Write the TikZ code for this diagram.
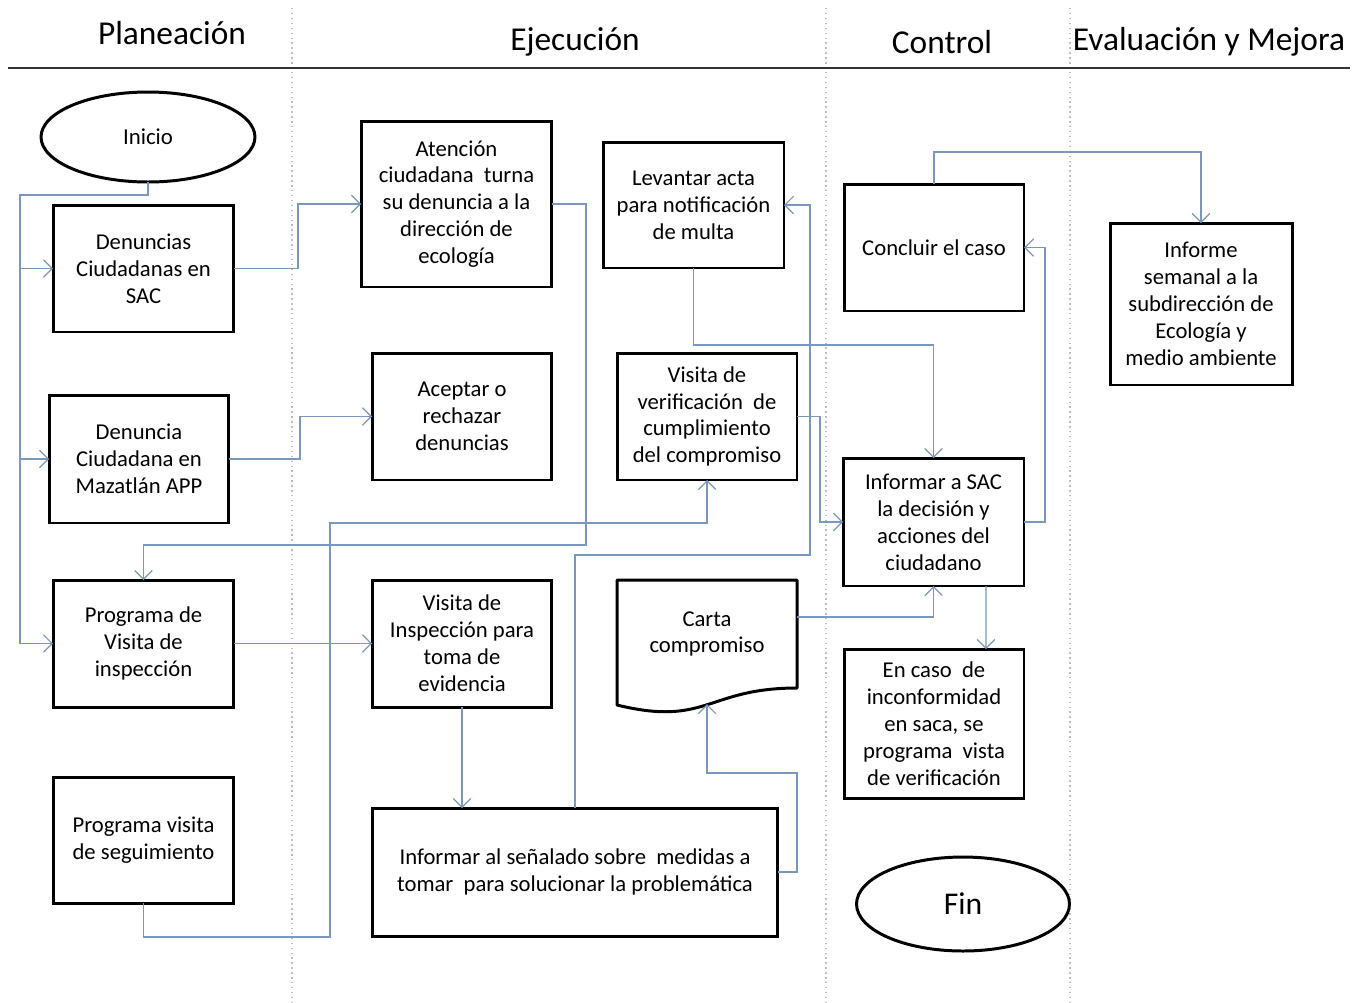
\documentclass[tikz,border=0pt]{standalone}
\usepackage{fontspec}
\setmainfont{Carlito}
\usetikzlibrary{arrows.meta,shapes.geometric}

\definecolor{conncol}{RGB}{122,152,190}
\definecolor{lanecol}{RGB}{190,190,190}

\tikzset{
  proc/.style={draw=black, line width=1.7pt, fill=white, align=center,
    inner sep=0pt, outer sep=0pt, font=\fontsize{12.9}{15.3}\selectfont},
  term/.style={ellipse, draw=black, line width=1.7pt, fill=white, inner sep=0pt, outer sep=0pt},
  txt/.style={align=center, inner sep=0pt, font=\fontsize{12.9}{15.3}\selectfont},
  conn/.style={draw=conncol, line width=0.7pt},
  arr/.style={conn, -{Straight Barb[length=5pt,width=10pt]}},
  lane/.style={draw=lanecol, dotted, line width=0.8pt},
  head/.style={font=\fontsize{19}{23}\selectfont, inner sep=0pt},
}

\begin{document}
\begin{tikzpicture}[x=0.02cm, y=-0.02cm]
\fill[white] (0,0) rectangle (1364,1002);
\useasboundingbox (0,0) rectangle (1364,1002);

% swimlane separators and header rule
\draw[lane] (292,8) -- (292,1002);
\draw[lane] (826,8) -- (826,1002);
\draw[lane] (1070,8) -- (1070,1002);
\draw[draw=black!80, line width=0.9pt] (8,68) -- (1350,68);

\node[head] (hplan) at (172,33) {Planeación};
\node[head] (hejec) at (575,42) {Ejecución};
\node[head] (hcont) at (942,42) {Control};
\node[head] (heval) at (1209,42) {Evaluación y Mejora};

% Planeación
\node[term, minimum width=4.28cm, minimum height=1.80cm, font=\fontsize{13}{15.3}\selectfont] (inicio) at (148,137) {Inicio};
\node[proc, minimum width=3.62cm, minimum height=2.54cm] (sac) at (143.5,268.5) {Denuncias\\Ciudadanas en\\SAC};
\node[proc, minimum width=3.60cm, minimum height=2.56cm] (app) at (139,459) {Denuncia\\Ciudadana en\\Mazatlán APP};
\node[proc, minimum width=3.62cm, minimum height=2.54cm] (progv) at (143.5,643.5) {Programa de\\Visita de\\inspección};
\node[proc, minimum width=3.62cm, minimum height=2.52cm] (progs) at (143.5,840) {Programa visita\\de seguimiento};

% Ejecución
\node[proc, minimum width=3.82cm, minimum height=3.32cm] (aten) at (456.5,204) {Atención\\ciudadana\ \ turna\\su denuncia a la\\dirección de\\ecología};
\node[proc, minimum width=3.60cm, minimum height=2.54cm] (acep) at (462,416.5) {Aceptar o\\rechazar\\denuncias};
\node[proc, minimum width=3.60cm, minimum height=2.54cm] (vinsp) at (462,643.5) {Visita de\\Inspección para\\toma de\\evidencia};
\node[proc, minimum width=8.12cm, minimum height=2.56cm] (infsen) at (575,872) {Informar al señalado sobre\ \ medidas a\\tomar\ \ para solucionar la problemática};
\node[proc, minimum width=3.62cm, minimum height=2.52cm] (acta) at (693.5,205) {Levantar acta\\para notificación\\de multa};
\node[proc, minimum width=3.60cm, minimum height=2.54cm] (vver) at (707,416.5) {Visita de\\verificación\ \ de\\cumplimiento\\del compromiso};

% document shape: Carta compromiso
\draw[draw=black, line width=1.7pt, fill=white, line join=round]
  (617,580) -- (797,580) -- (797,688)
  .. controls (707,688) and (707,727) .. (617,705) -- cycle;
\node[txt] (carta) at (707,634) {Carta\\compromiso};
\coordinate (cartar) at (797,617);
\coordinate (cartab) at (707,704);

% Control
\node[proc, minimum width=3.60cm, minimum height=2.54cm] (concl) at (934,247.5) {Concluir el caso};
\node[proc, minimum width=3.62cm, minimum height=2.56cm] (infsac) at (933.5,522) {Informar a SAC\\la decisión y\\acciones del\\ciudadano};
\node[proc, minimum width=3.60cm, minimum height=2.98cm] (encaso) at (934,723.5) {En caso\ \ de\\inconformidad\\en saca, se\\programa\ \ vista\\de verificación};
\node[term, minimum width=4.26cm, minimum height=1.88cm, font=\fontsize{18}{21}\selectfont] (fin) at (963,904) {Fin};

% Evaluación y Mejora
\node[proc, minimum width=3.64cm, minimum height=3.24cm] (infsem) at (1201,304) {Informe\\semanal a la\\subdirección de\\Ecología y\\medio ambiente};

% connectors
\coordinate (trunk) at (20,195);
\draw[conn] (inicio.south) |- (trunk) -- (20,643.5);
\draw[arr] (20,268.5) -- (sac.west);
\draw[arr] (20,459) -- (app.west);
\draw[arr] (20,643.5) -- (progv.west);

\draw[arr] (sac.east) -| (298,204) -- (aten.west);
\draw[arr] (app.east) -| (300,416.5) -- (acep.west);
\draw[arr] (progv.east) -- (vinsp.west);
\draw[arr] (aten.east) -| (586,545) -| (progv.north);
\draw[arr] (progs.south) |- (330,937) -- (330,523) -| (vver.south);
\draw[arr] (vinsp.south) -- (infsen.north -| vinsp.south);
\draw[arr] (infsen.north) |- (810,555) |- (acta.east);
\draw[arr] (infsen.east) -| (797,773) -| (cartab);
\draw[arr] (cartar) -| (infsac.south);
\draw[arr] (vver.east) -| (820,522) -- (infsac.west);
\draw[arr] (acta.south) -- (693.5,345) -| (infsac.north);
\draw[arr] (infsac.east) -| (1045,247.5) -- (concl.east);
\draw[arr] (concl.north) -- (934,152) -| (infsem.north);
\draw[arr] ([xshift=1.05cm]infsac.south) -- ([xshift=1.04cm]encaso.north);
\end{tikzpicture}
\end{document}
